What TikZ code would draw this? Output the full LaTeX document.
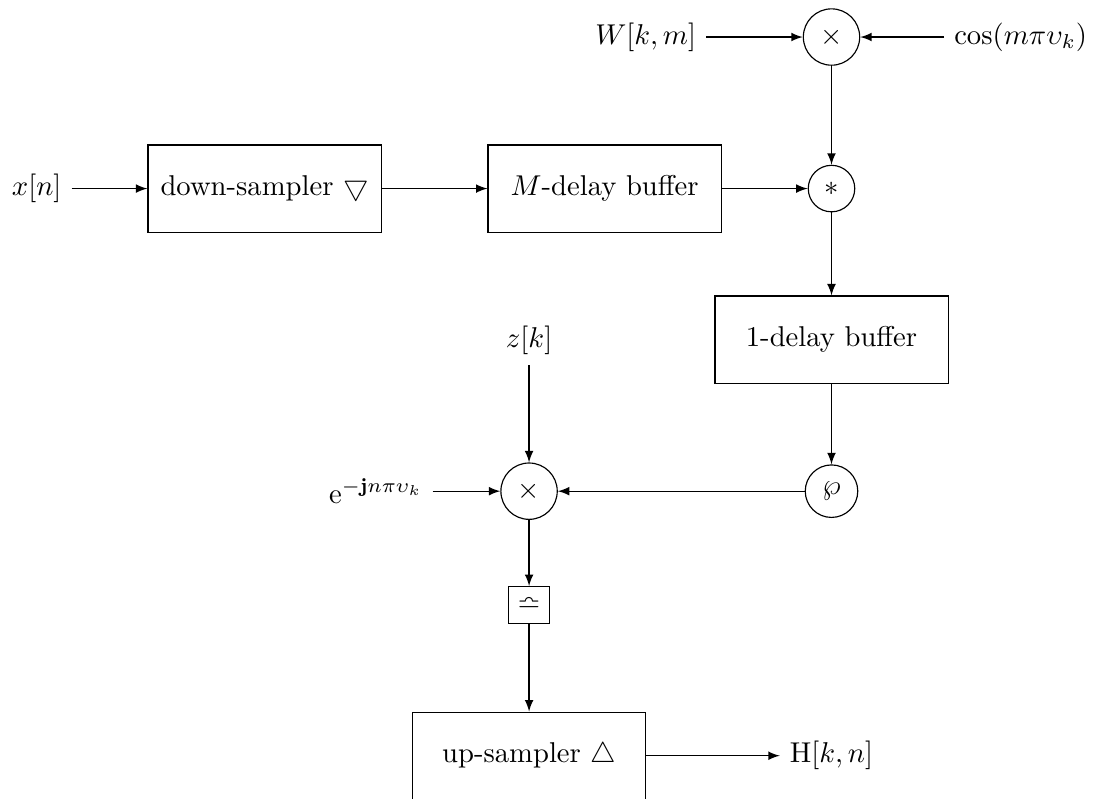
\documentclass[tikz,border=0pt]{standalone}
\usepackage{amsmath,amssymb}
\usetikzlibrary{arrows}

\begin{document}
\begin{tikzpicture}[>=latex,
    block/.style={draw, rectangle, minimum width=2.86cm, minimum height=1.07cm},
    op/.style={draw, circle}]
    \useasboundingbox (0,0) rectangle (13.42,-9.80);

    % upper row
    \node (xn) at (0.45, -2.313) {$x[n]$};
    \node[block] (down) at (3.245, -2.313) {down-sampler $\bigtriangledown$};
    \node[block] (mbuf) at (7.417, -2.313) {$M$-delay buffer};
    \node[op] (conv) at (10.20, -2.313) {$\ast$};

    \node[op] (mtop) at (10.20, -0.454) {$\times$};
    \node (wkm) at (7.92, -0.454) {$W[k,m]$};
    \node (cosm) at (12.52, -0.454) {$\cos(m\pi\upsilon_k)$};

    \draw[->] (xn) -- (down);
    \draw[->] (down) -- (mbuf);
    \draw[->] (mbuf) -- (conv);
    \draw[->] (wkm) -- (mtop);
    \draw[->] (cosm) -- (mtop);
    \draw[->] (mtop) -- (conv);

    % right column
    \node[block] (dbuf) at (10.20, -4.166) {1-delay buffer};
    \node[op] (wp) at (10.20, -6.025) {$\wp$};
    \draw[->] (conv) -- (dbuf);
    \draw[->] (dbuf) -- (wp);

    % lower part
    \node (zk) at (6.49, -4.18) {$z[k]$};
    \node[op] (mlow) at (6.49, -6.025) {$\times$};
    \node (ex) at (4.61, -6.025) {$\mathrm{e}^{-\mathbf{j}n\pi\upsilon_k}$};
    \node[draw] (sel) at (6.49, -7.42) {$\bumpeq$};
    \node[block] (up) at (6.49, -9.27) {up-sampler $\bigtriangleup$};
    \node (hkn) at (10.20, -9.27) {$\mathrm{H}[k,n]$};

    \draw[->] (zk) -- (mlow);
    \draw[->] (ex) -- (mlow);
    \draw[->] (wp) -- (mlow);
    \draw[->] (mlow) -- (sel);
    \draw[->] (sel) -- (up);
    \draw[->] (up) -- (hkn);
\end{tikzpicture}
\end{document}
